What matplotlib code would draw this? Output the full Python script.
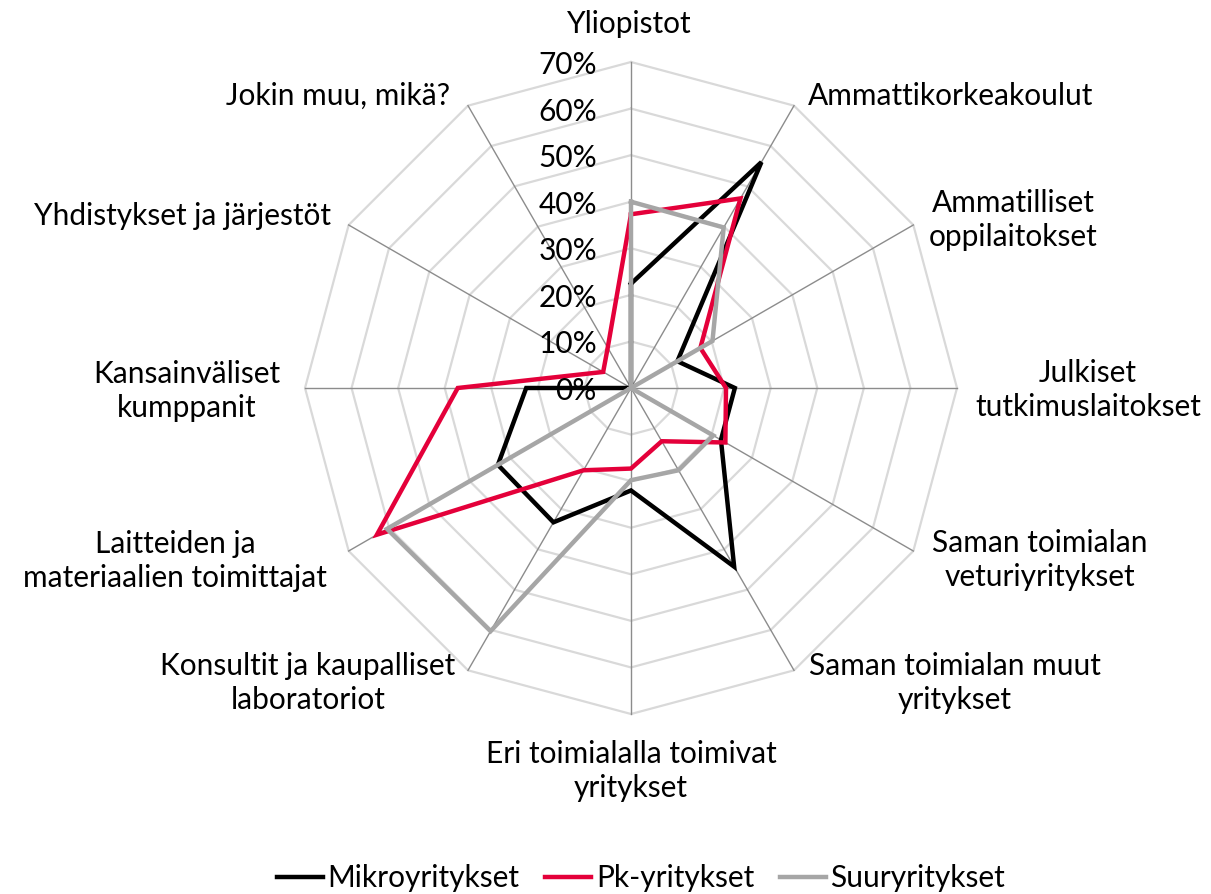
import numpy as np
import matplotlib
matplotlib.use("Agg")
import matplotlib.pyplot as plt
from matplotlib.lines import Line2D

plt.rcParams['font.family'] = ['Lato', 'DejaVu Sans']

categories = [
    "Yliopistot", "Ammattikorkeakoulut", "Ammatilliset\noppilaitokset",
    "Julkiset\ntutkimuslaitokset", "Saman toimialan\nveturiyritykset",
    "Saman toimialan muut\nyritykset", "Eri toimialalla toimivat\nyritykset",
    "Konsultit ja kaupalliset\nlaboratoriot", "Laitteiden ja\nmateriaalien toimittajat",
    "Kansainväliset\nkumppanit", "Yhdistykset ja järjestöt", "Jokin muu, mikä?",
]
mikro = [22.4, 56.0, 11.5, 22.3, 22.3, 44.3, 22.0, 33.3, 33.0, 22.5, 0.0, 0.0]
pk = [37.3, 47.0, 17.2, 20.4, 23.4, 13.2, 17.3, 20.4, 63.0, 37.2, 6.9, 10.0]
suur = [40.0, 39.8, 20.2, 0.0, 20.4, 20.4, 19.8, 60.3, 60.5, 0.0, 0.0, 0.0]
series_names = ["Mikroyritykset", "Pk-yritykset", "Suuryritykset"]
series_colors = ["#000000", "#E4003A", "#A6A6A6"]
tick_values = [0, 10, 20, 30, 40, 50, 60, 70]

# label centre positions in pixels (layout only)
label_pos = [(629, 24), (951, 96), (1013, 220), (1088, 390), (1040, 560),
             (955, 683), (631, 771), (308, 683), (175, 561), (187, 391),
             (183, 216), (338, 96)]

FS = 21.5
W, H = 1211, 894
fig = plt.figure(figsize=(W / 100, H / 100), dpi=100)
cx, cy, R = 631, 388, 326
ax = fig.add_axes([(cx - R) / W, (H - cy - R) / H, 2 * R / W, 2 * R / H], projection='polar')
ax.set_theta_zero_location('N')
ax.set_theta_direction(-1)
ax.set_ylim(0, 70)
ax.set_xticks([])
ax.set_yticks([])
ax.grid(False)
ax.spines['polar'].set_visible(False)
ax.patch.set_alpha(0)

n = len(categories)
theta = np.arange(n) * 2 * np.pi / n
theta_closed = np.append(theta, theta[0])

for v in tick_values[1:]:
    ax.plot(theta_closed, [v] * (n + 1), color="#D9D9D9", lw=1.6, zorder=1, clip_on=False)
for t in theta:
    ax.plot([t, t], [0, 70], color="#8C8C8C", lw=1.0, zorder=2, clip_on=False)

for vals, name, col, z in zip([mikro, pk, suur], series_names, series_colors, [3, 4, 5]):
    ax.plot(theta_closed, list(vals) + [vals[0]], color=col, lw=3.2, zorder=z,
            solid_joinstyle='miter', clip_on=False)

for v in tick_values:
    ax.annotate(f"{v}%", xy=(0, v), xytext=(-34, -3), textcoords='offset pixels',
                ha='right', va='center', fontsize=FS, color="#000000", zorder=6)

for lab, (px, py) in zip(categories, label_pos):
    fig.text(px / W, 1 - py / H, lab, ha='center', va='center', fontsize=FS,
             linespacing=1.3, color="#000000")

handles = [Line2D([0], [0], color=c, lw=3.2) for c in series_colors]
fig.legend(handles, series_names, loc='center', bbox_to_anchor=(641 / W, 1 - 878 / H),
           ncol=3, frameon=False, fontsize=FS, handlelength=1.55, handletextpad=0.15,
           columnspacing=0.85)

fig.savefig("out.png", dpi=100)
